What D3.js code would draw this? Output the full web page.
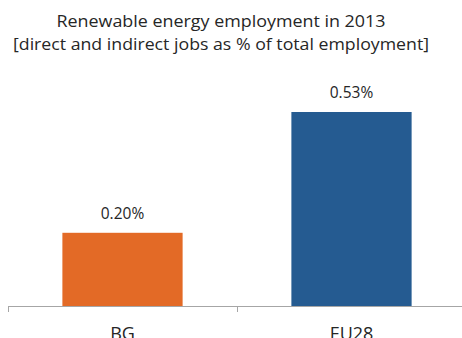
<!DOCTYPE html>
<html>
<head>
<meta charset="utf-8">
<script src="https://cdn.jsdelivr.net/npm/d3@7"></script>
<style>
  body { margin: 0; background: #fff; }
  text { font-family: "Open Sans", Lato, sans-serif; fill: #262626; }
</style>
</head>
<body>
<div id="chart"></div>
<script>
var categories = ["BG", "EU28"];
var values = [0.20, 0.53];
var valueLabels = ["0.20%", "0.53%"];
var titleLines = ["Renewable energy employment in 2013",
                  "[direct and indirect jobs as % of total employment]"];
var colors = ["#E36A26", "#255B91"];

var width = 462, height = 338;
var margin = { top: 0, right: -4, bottom: 32, left: 8 };

var svg = d3.select("#chart").append("svg")
    .attr("width", width)
    .attr("height", height);

var x = d3.scaleBand()
    .domain(categories)
    .range([margin.left, width - margin.right])
    .padding(0);

var y = d3.scaleLinear()
    .domain([0, 0.53])
    .range([height - margin.bottom, 112]);

var barW = x.bandwidth() * 0.525;

// title (Calibri-like width)
var titleWidths = [329, 416];
svg.selectAll("text.title")
    .data(titleLines)
    .enter().append("text")
    .attr("class", "title")
    .attr("x", 221)
    .attr("y", function(d, i) { return 27 + i * 23; })
    .attr("text-anchor", "middle")
    .attr("textLength", function(d, i) { return titleWidths[i]; })
    .attr("lengthAdjust", "spacingAndGlyphs")
    .style("font-size", "16.5px")
    .text(function(d) { return d; });

// bars
svg.selectAll("rect.bar")
    .data(values)
    .enter().append("rect")
    .attr("class", "bar")
    .attr("x", function(d, i) { return x(categories[i]) + (x.bandwidth() - barW) / 2; })
    .attr("width", barW)
    .attr("y", function(d) { return y(d); })
    .attr("height", function(d) { return y(0) - y(d); })
    .style("fill", function(d, i) { return colors[i]; });

// value labels
svg.selectAll("text.val")
    .data(values)
    .enter().append("text")
    .attr("class", "val")
    .attr("x", function(d, i) { return x(categories[i]) + x.bandwidth() / 2; })
    .attr("y", function(d) { return y(d) - 14; })
    .attr("text-anchor", "middle")
    .style("font-size", "15.5px")
    .text(function(d, i) { return valueLabels[i]; });

// x axis
var axis = svg.append("g")
    .attr("transform", "translate(0," + y(0) + ")");

axis.append("line")
    .attr("x1", margin.left).attr("x2", width)
    .attr("y1", 0.5).attr("y2", 0.5)
    .style("stroke", "#a6a6a6");

axis.selectAll("line.tick")
    .data(categories)
    .enter().append("line")
    .attr("class", "tick")
    .attr("x1", function(d) { return Math.round(x(d)) + 0.5; })
    .attr("x2", function(d) { return Math.round(x(d)) + 0.5; })
    .attr("y1", 0).attr("y2", 6)
    .style("stroke", "#a6a6a6");

axis.selectAll("text.cat")
    .data(categories)
    .enter().append("text")
    .attr("class", "cat")
    .attr("x", function(d) { return x(d) + x.bandwidth() / 2; })
    .attr("y", 34)
    .attr("text-anchor", "middle")
    .style("font-size", "18px")
    .text(function(d) { return d; });
</script>
</body>
</html>
